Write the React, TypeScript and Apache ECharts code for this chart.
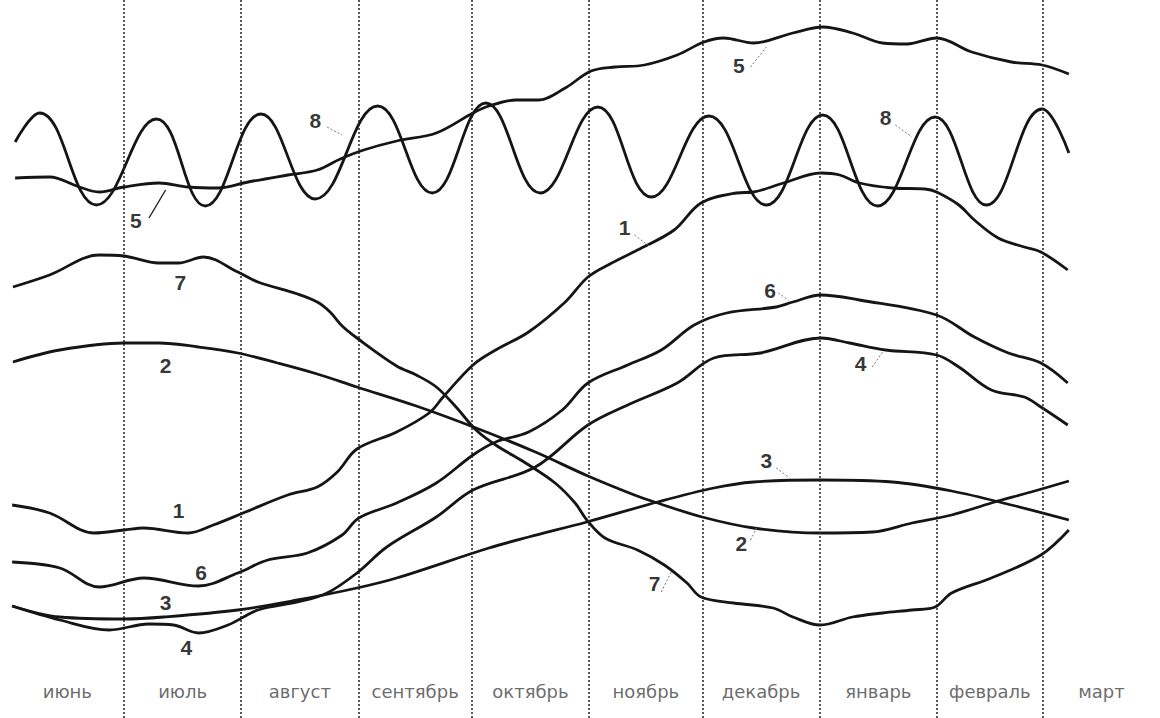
import React, { useEffect, useRef } from "react";
import * as echarts from "echarts";

// x = day counted from 1 June, y = arbitrary units (0 = bottom band)
const monthNames = ["июнь", "июль", "август", "сентябрь", "октябрь", "ноябрь", "декабрь", "январь", "февраль", "март"];
const monthDays = [30, 31, 31, 30, 31, 30, 31, 31, 28, 31];

const curve1 = [
  [0.4, 19.5], [10.3, 18.7], [22.1, 16.7], [30.0, 17.0], [35.2, 17.2], [47.0, 16.7], [53.6, 17.5], [61.5, 18.7],
  [73.3, 20.5], [81.1, 21.3], [86.4, 22.8], [91.6, 25.1], [102.1, 26.8], [110.7, 28.7], [114.4, 30.3], [122.3, 33.5],
  [128.3, 35.0], [137.0, 36.8], [146.7, 39.8], [152.7, 42.3], [159.0, 43.7], [165.8, 45.0], [175.5, 47.0],
  [182.6, 49.7], [192.0, 50.7], [196.5, 50.8], [204.4, 51.7], [214.3, 52.7], [219.3, 52.5], [224.5, 51.7],
  [233.2, 51.2], [241.8, 51.1], [244.9, 50.8], [250.8, 49.5], [254.9, 48.0], [261.2, 46.2], [268.1, 45.3],
  [272.5, 44.8], [279.6, 43.0],
];

const curve2 = [
  [0.6, 33.8], [13.0, 35.0], [30.0, 35.7], [39.2, 35.7], [49.7, 35.3], [60.1, 34.7], [70.6, 33.7], [81.1, 32.6],
  [91.6, 31.3], [107.3, 29.4], [123.1, 27.2], [138.8, 24.8], [152.7, 22.4], [165.0, 20.5], [170.3, 19.8],
  [182.9, 18.3], [196.5, 17.2], [214.1, 16.7], [227.9, 16.8], [238.4, 17.7], [248.9, 18.5], [259.4, 19.7],
  [269.9, 20.8], [279.9, 21.9],
];

const curve3 = [
  [0.4, 9.4], [13.0, 8.3], [30.0, 8.1], [40.5, 8.3], [60.1, 9.0], [75.9, 10.0], [91.6, 11.2], [102.1, 12.2],
  [126.5, 15.2], [137.0, 16.3], [152.4, 17.8], [171.1, 19.8], [186.0, 21.2], [196.5, 21.8], [214.1, 22.0],
  [233.2, 21.8], [248.9, 20.9], [264.7, 19.5], [279.9, 18.0],
];

const curve4 = [
  [0.4, 9.4], [13.0, 8.0], [26.1, 7.0], [36.5, 7.6], [43.1, 7.5], [49.7, 6.7], [57.5, 7.5], [65.4, 9.0],
  [75.9, 9.8], [83.7, 10.7], [91.6, 12.7], [99.5, 15.3], [112.6, 18.3], [122.3, 21.0], [138.8, 23.3],
  [152.7, 27.5], [163.2, 29.5], [176.3, 31.7], [186.0, 34.2], [198.3, 34.7], [214.3, 36.2], [221.9, 35.7],
  [231.4, 35.0], [244.9, 34.5], [250.8, 33.3], [259.4, 31.0], [268.1, 30.3], [272.5, 29.3], [279.6, 27.5],
];

const curve5 = [
  [1.2, 52.2], [10.3, 52.3], [18.2, 51.3], [23.4, 50.8], [30.0, 51.3], [39.2, 51.7], [47.0, 51.3], [54.9, 51.2],
  [62.8, 51.8], [73.3, 52.5], [81.1, 53.0], [87.2, 54.1], [93.4, 55.0], [102.1, 55.9], [112.6, 56.7],
  [122.3, 58.7], [126.5, 59.4], [133.6, 60.0], [139.6, 60.0], [146.7, 61.2], [153.5, 62.9], [159.8, 63.3],
  [167.6, 63.5], [176.3, 64.5], [183.4, 65.8], [188.6, 66.2], [196.5, 65.7], [206.9, 66.7], [214.8, 67.3],
  [222.7, 66.7], [230.6, 65.7], [237.1, 65.6], [244.9, 66.2], [254.2, 64.8], [264.7, 63.8], [272.8, 63.5],
  [279.9, 62.6],
];

const curve6 = [
  [0.4, 13.8], [13.0, 13.2], [23.4, 11.3], [35.2, 12.2], [49.7, 11.4], [60.1, 12.7], [68.0, 14.0], [78.5, 14.7],
  [87.7, 16.5], [92.1, 18.2], [102.1, 19.7], [112.6, 21.7], [122.3, 24.5], [128.3, 25.8], [137.0, 26.8],
  [145.9, 29.0], [152.7, 31.7], [163.2, 33.5], [172.1, 35.0], [180.8, 37.5], [189.4, 38.7], [202.5, 39.3],
  [206.9, 39.8], [214.3, 40.5], [224.5, 40.0], [244.9, 38.5], [254.9, 36.3], [263.9, 34.7], [272.5, 33.7],
  [279.6, 31.7],
];

const curve7 = [
  [0.6, 41.3], [10.3, 42.5], [23.4, 44.5], [30.0, 44.4], [39.2, 43.7], [44.4, 43.7], [51.0, 44.3], [60.1, 42.8],
  [65.4, 41.8], [75.9, 40.6], [81.1, 39.8], [84.5, 38.8], [87.7, 37.4], [91.6, 36.2], [102.1, 33.4], [107.3, 32.5],
  [112.6, 31.3], [117.8, 29.3], [123.1, 27.0], [128.3, 25.5], [136.2, 23.7], [144.0, 21.7], [149.3, 19.7],
  [152.4, 18.0], [157.2, 16.2], [165.8, 15.0], [172.9, 13.5], [178.9, 11.7], [182.6, 10.3], [191.2, 9.7],
  [201.7, 9.2], [206.9, 8.3], [214.1, 7.5], [222.7, 8.3], [230.6, 8.7], [238.4, 9.0], [244.5, 9.3], [248.9, 10.7],
  [259.4, 12.2], [272.5, 14.5], [279.9, 17.0],
];

const curve8 = [
  [1.2, 55.8], [7.7, 58.7], [22.7, 49.5], [38.6, 58.1], [51.5, 49.4], [66.2, 58.6], [80.6, 50.1], [97.1, 59.4],
  [111.5, 50.7], [125.7, 59.7], [140.1, 50.7], [155.3, 59.3], [169.5, 50.3], [184.7, 58.4], [199.9, 49.5],
  [214.8, 58.5], [229.3, 49.4], [244.5, 58.3], [258.1, 49.5], [272.8, 59.1], [279.9, 54.7],
];

const curveNames = ["1", "2", "3", "4", "5", "6", "7", "8"];
const curves = [curve1, curve2, curve3, curve4, curve5, curve6, curve7, curve8];

// number tags placed next to the curves
const tagTexts = ["5", "8", "7", "2", "1", "6", "3", "4", "1", "5", "8", "6", "4", "3", "2", "7"];
const tagPoints = [
  [33.1, 48.0], [80.6, 58.0], [44.9, 41.8], [41.0, 33.5], [44.4, 19.0], [50.4, 12.8], [41.0, 9.8], [46.5, 5.3],
  [162.4, 47.3], [192.6, 63.5], [231.4, 58.3], [200.9, 41.0], [224.8, 33.7], [199.9, 24.0], [193.3, 15.7], [170.3, 11.7],
];
// leader strokes from tags to curves
const leaderFrom = [
  [36.6, 48.2], [83.7, 57.3], [165.0, 46.5], [195.7, 63.3], [234.0, 57.5], [203.0, 40.7], [227.9, 33.3],
  [202.5, 23.2], [195.7, 16.0], [172.1, 10.8],
];
const leaderTo = [
  [41.0, 51.0], [87.7, 56.5], [168.9, 45.4], [199.9, 65.3], [238.4, 56.3], [205.7, 40.0], [230.6, 34.8],
  [205.7, 22.3], [197.3, 17.2], [174.7, 12.8],
];
const leaderSolid = [true, false, false, false, false, false, false, false, false, false];

const monthLabelLevel = 0.9;

export default function App() {
  const ref = useRef<HTMLDivElement>(null);

  useEffect(() => {
    if (!ref.current) return;
    const chart = echarts.init(ref.current, null, { renderer: "svg" });

    const boundaries: number[] = [];
    const mids: number[] = [];
    let acc = 0;
    monthDays.forEach((d, i) => {
      mids.push(acc + d / 2);
      acc += d;
      if (i < monthDays.length - 1) boundaries.push(acc);
    });
    const total = acc;

    const lineSeries = curves.map((c, i) => ({
      type: "line",
      name: curveNames[i],
      data: c,
      smooth: i === 7 ? 0.42 : 0.35,
      symbol: "none",
      silent: true,
      clip: false,
      lineStyle: { color: "#151515", width: 2.8 },
      z: 3,
    }));

    const option: any = {
      animation: false,
      backgroundColor: "#ffffff",
      grid: { left: 10.6, right: 1160 - 10.6 - total * 3.814, top: 0, bottom: 0, containLabel: false },
      xAxis: {
        type: "value",
        min: 0,
        max: total,
        show: false,
        splitLine: { show: false },
      },
      yAxis: {
        type: "value",
        min: -1.8,
        max: 70,
        show: false,
        splitLine: { show: false },
      },
      series: [
        {
          type: "scatter",
          name: "months",
          data: monthNames.map((n, i) => ({ name: n, value: [mids[i], monthLabelLevel] })),
          symbolSize: 1,
          itemStyle: { color: "rgba(0,0,0,0)" },
          silent: true,
          label: {
            show: true,
            position: "inside",
            formatter: "{b}",
            fontFamily: "DejaVu Sans",
            fontSize: 18,
            color: "#444",
            align: "center",
            verticalAlign: "middle",
          },
          markLine: {
            silent: true,
            symbol: ["none", "none"],
            label: { show: false },
            lineStyle: { color: "#222", width: 1.5, type: [2, 2] },
            data: boundaries.map((b) => ({ xAxis: b })),
          },
          z: 1,
        },
        ...lineSeries,
        {
          type: "scatter",
          name: "tags",
          data: tagTexts.map((t, i) => ({ name: t, value: tagPoints[i] })),
          symbolSize: 1,
          itemStyle: { color: "rgba(0,0,0,0)" },
          silent: true,
          label: {
            show: true,
            position: "inside",
            formatter: "{b}",
            fontFamily: "Liberation Sans",
            fontWeight: "bold",
            fontSize: 21,
            color: "#000",
            align: "center",
            verticalAlign: "middle",
          },
          markLine: {
            silent: true,
            symbol: ["none", "none"],
            label: { show: false },
            data: leaderFrom.map((f, i) => [
              {
                coord: f,
                lineStyle: leaderSolid[i]
                  ? { color: "#222", width: 1.4, type: "solid" }
                  : { color: "#777", width: 1, type: [2, 2] },
              },
              { coord: leaderTo[i] },
            ]),
          },
          z: 4,
        },
      ],
    };

    chart.setOption(option);
    return () => chart.dispose();
  }, []);

  return (
    <div
      ref={ref}
      style={{ position: "fixed", left: 0, top: 0, width: 1160, height: 718, background: "#fff" }}
    />
  );
}
